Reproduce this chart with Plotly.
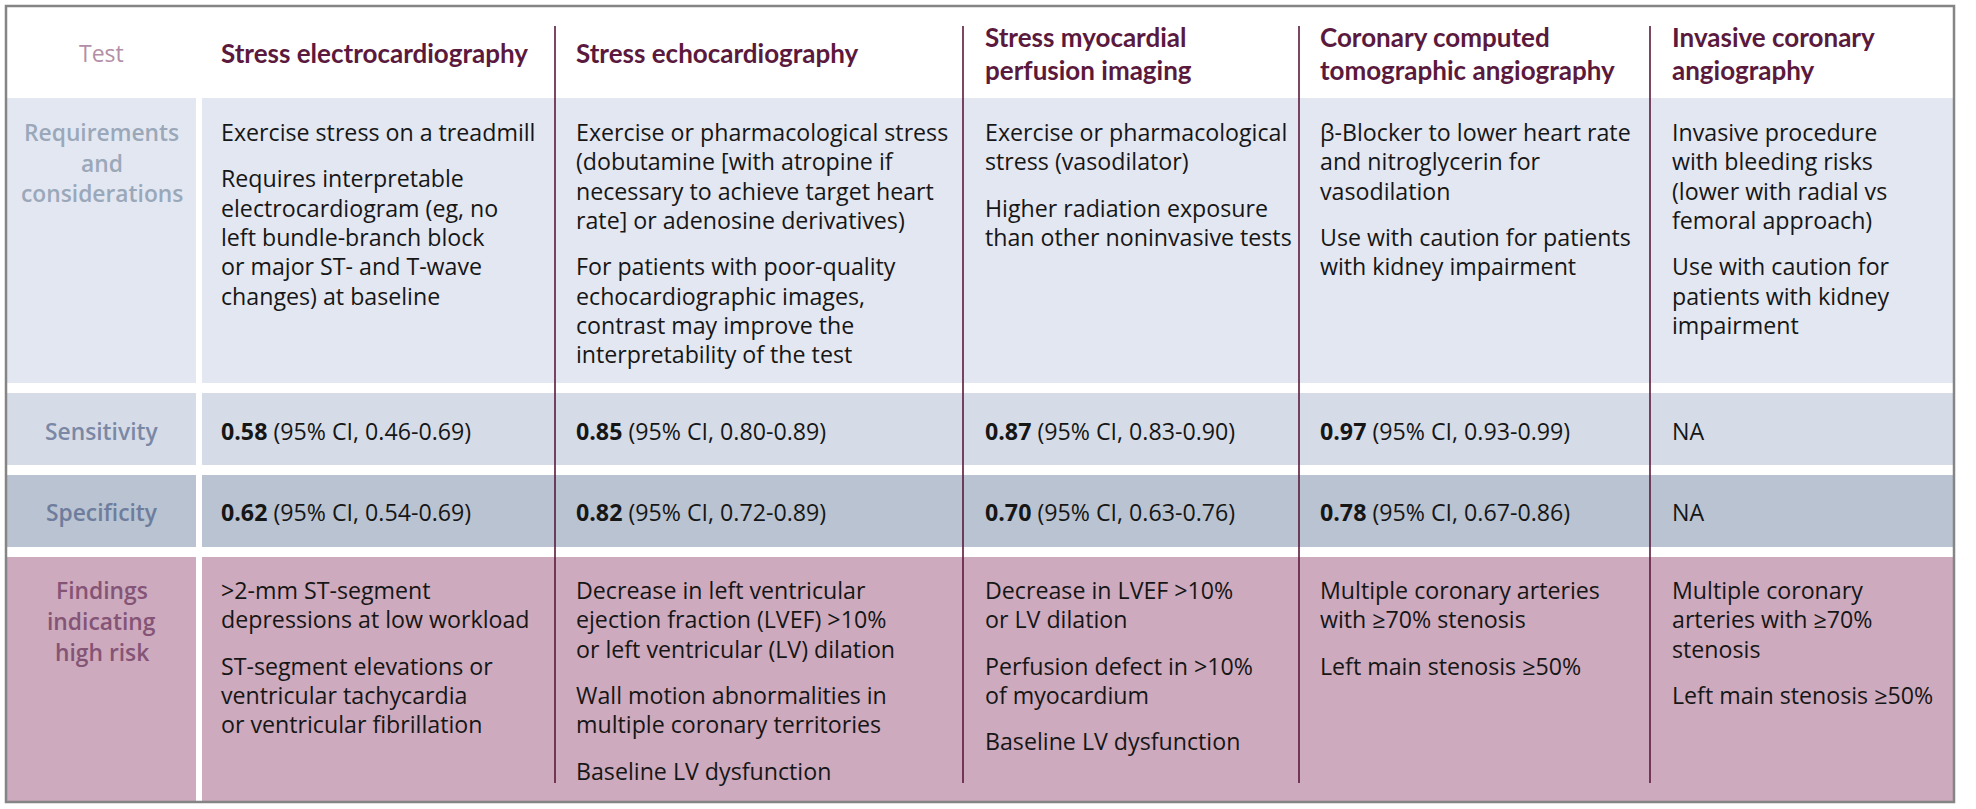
import plotly.graph_objects as go

# ---- table content ----
tests = ["Stress electrocardiography",
         "Stress echocardiography",
         "Stress myocardial<br>perfusion imaging",
         "Coronary computed<br>tomographic angiography",
         "Invasive coronary<br>angiography"]

row_labels = ["Requirements<br>and<br>considerations", "Sensitivity", "Specificity",
              "Findings<br>indicating<br>high risk"]

requirements = [
    [["Exercise stress on a treadmill"],
     ["Requires interpretable", "electrocardiogram (eg, no", "left bundle-branch block",
      "or major ST- and T-wave", "changes) at baseline"]],
    [["Exercise or pharmacological stress", "(dobutamine [with atropine if",
      "necessary to achieve target heart", "rate] or adenosine derivatives)"],
     ["For patients with poor-quality", "echocardiographic images,",
      "contrast may improve the", "interpretability of the test"]],
    [["Exercise or pharmacological", "stress (vasodilator)"],
     ["Higher radiation exposure", "than other noninvasive tests"]],
    [["β-Blocker to lower heart rate", "and nitroglycerin for", "vasodilation"],
     ["Use with caution for patients", "with kidney impairment"]],
    [["Invasive procedure", "with bleeding risks", "(lower with radial vs", "femoral approach)"],
     ["Use with caution for", "patients with kidney", "impairment"]],
]

sensitivity = ["0.58", "0.85", "0.87", "0.97", None]
sensitivity_ci = ["0.46-0.69", "0.80-0.89", "0.83-0.90", "0.93-0.99", None]
specificity = ["0.62", "0.82", "0.70", "0.78", None]
specificity_ci = ["0.54-0.69", "0.72-0.89", "0.63-0.76", "0.67-0.86", None]

findings = [
    [["&gt;2-mm ST-segment", "depressions at low workload"],
     ["ST-segment elevations or", "ventricular tachycardia", "or ventricular fibrillation"]],
    [["Decrease in left ventricular", "ejection fraction (LVEF) &gt;10%",
      "or left ventricular (LV) dilation"],
     ["Wall motion abnormalities in", "multiple coronary territories"],
     ["Baseline LV dysfunction"]],
    [["Decrease in LVEF &gt;10%", "or LV dilation"],
     ["Perfusion defect in &gt;10%", "of myocardium"],
     ["Baseline LV dysfunction"]],
    [["Multiple coronary arteries", "with ≥70% stenosis"],
     ["Left main stenosis ≥50%"]],
    [["Multiple coronary", "arteries with ≥70%", "stenosis"],
     ["Left main stenosis ≥50%"]],
]

# ---- layout / style ----
W, H = 1976, 809
FONT = "'Open Sans', 'Noto Sans', sans-serif"
HEAD_FONT = "Lato, 'Open Sans', sans-serif"
MAROON = "#5b1a3d"
BODY = "#161616"

# rows: (top, bottom, background, label colour)
rows = [(98, 383, "#e3e7f1", "#9aa8b9"),
        (393, 465, "#d5dce8", "#7b88a5"),
        (475, 547, "#b9c3d1", "#6f7d9d"),
        (557, 801, "#cdaabd", "#845476")]
label_x0, label_x1, data_x0, right = 7, 196, 202, 1953
dividers = [555, 963, 1299, 1650]
text_x = [219, 574, 983, 1318, 1670]
LH, PGAP = 29.3, 17

fig = go.Figure()
shapes = []
ann = []

for top, bot, bg, _ in rows:
    for x0, x1 in [(label_x0, label_x1), (data_x0, right)]:
        shapes.append(dict(type="rect", x0=x0, x1=x1, y0=top, y1=bot,
                           fillcolor=bg, line_width=0, layer="below"))

for x in dividers:
    shapes.append(dict(type="line", x0=x, x1=x, y0=26, y1=783,
                       line=dict(color=MAROON, width=1.6)))

shapes.append(dict(type="rect", x0=6, x1=1954, y0=6, y1=802,
                   line=dict(color="#858585", width=2.5)))


def add(text, x, y, size=23.2, color=BODY, xanchor="left", weight="normal", family=FONT):
    ann.append(dict(text=text, x=x, y=y, xref="x", yref="y", showarrow=False,
                    xanchor=xanchor, yanchor="middle", align="center" if xanchor == "center" else "left",
                    font=dict(family=family, size=size, color=color, weight=weight)))


def add_paragraphs(paras, x, y0):
    y = y0
    for p in paras:
        for line in p:
            add(line, x, y)
            y += LH
        y += PGAP


# header
add("Test", (label_x0 + label_x1) / 2, 53, size=23, color="#b48ea7", xanchor="center")
for i, t in enumerate(tests):
    lines = t.split("<br>")
    ys = [53] if len(lines) == 1 else [37, 70]
    for line, y in zip(lines, ys):
        add(line, text_x[i], y, size=26, color=MAROON, weight="bold", family=HEAD_FONT)

# row labels
label_ys = [[132, 163, 193], [431], [512], [590, 621, 652]]
for (top, bot, bg, lc), lab, ys in zip(rows, row_labels, label_ys):
    for line, y in zip(lab.split("<br>"), ys):
        add(line, (label_x0 + label_x1) / 2, y, size=22.8, color=lc, xanchor="center", weight=600)

# body cells
for i in range(5):
    add_paragraphs(requirements[i], text_x[i], 132)
    for vals, cis, y in [(sensitivity, sensitivity_ci, 431), (specificity, specificity_ci, 512)]:
        if vals[i] is None:
            add("NA", text_x[i], y)
        else:
            add(f"<b>{vals[i]}</b> (95% CI, {cis[i]})", text_x[i], y)
    add_paragraphs(findings[i], text_x[i], 590)

fig.update_layout(
    width=W, height=H, margin=dict(l=0, r=0, t=0, b=0),
    paper_bgcolor="white", plot_bgcolor="white",
    xaxis=dict(range=[0, W], visible=False, fixedrange=True),
    yaxis=dict(range=[H, 0], visible=False, fixedrange=True),
    shapes=shapes, annotations=ann, showlegend=False,
)
# drop the default page margin so the figure sits flush in the window
fig.write_html("out.html", config={"displayModeBar": False},
               post_script="document.body.style.margin='0';")
